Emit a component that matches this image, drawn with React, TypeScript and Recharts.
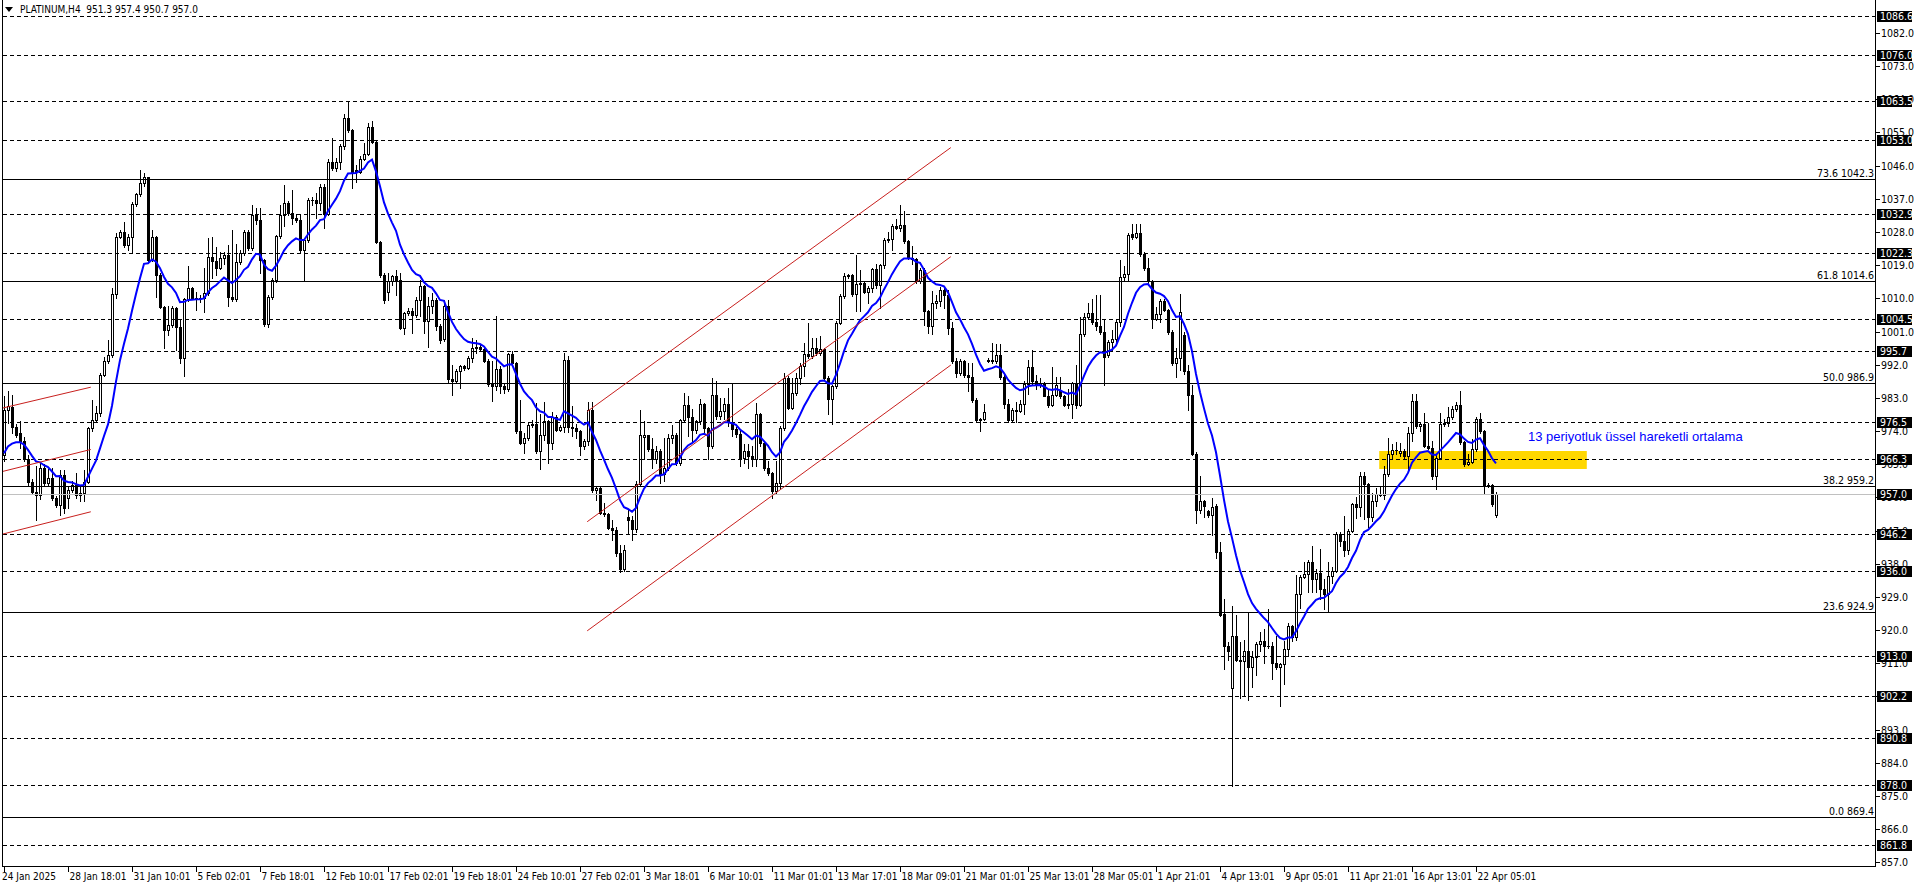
import React from 'react';
import { ComposedChart, Bar, Line, XAxis, YAxis, ReferenceLine, ReferenceArea } from 'recharts';

// ---------------- data ----------------
const symbolName = 'PLATINUM,H4';

// H4 candles [open, high, low, close]
const candlesA: number[][] = [
  [967.5, 983.4, 965.8, 979.6], [979.8, 984.9, 976.1, 980.7], [980.6, 983.8, 973.4, 975.2], [975.2, 976.0, 972.5, 973.0],
  [973.4, 976.6, 969.4, 971.2], [971.2, 972.5, 965.8, 966.5], [966.5, 967.6, 959.4, 960.3], [960.3, 961.0, 957.2, 957.6],
  [957.6, 964.4, 950.0, 956.7], [956.7, 965.2, 955.5, 964.0], [964.0, 965.0, 959.0, 960.0], [960.0, 963.6, 959.2, 961.2],
  [961.2, 964.0, 955.4, 955.8], [955.8, 956.5, 953.5, 954.0], [954.0, 963.5, 951.3, 962.0], [962.0, 963.5, 951.8, 953.1],
  [955.8, 959.0, 953.0, 958.1], [958.1, 960.5, 957.6, 959.4], [959.4, 962.6, 955.8, 956.7], [956.7, 959.0, 954.9, 957.2],
  [957.2, 963.5, 954.9, 960.3], [960.3, 975.2, 959.8, 974.8], [974.8, 982.5, 973.9, 977.1], [977.1, 980.7, 976.6, 978.9],
  [978.9, 989.7, 978.0, 989.2], [989.2, 994.2, 988.8, 992.9], [992.9, 998.7, 992.4, 994.7], [994.7, 1012.7, 994.2, 1011.2],
  [1011.2, 1027.6, 1010.0, 1026.7], [1026.7, 1028.5, 1026.3, 1028.1], [1028.1, 1030.8, 1024.0, 1024.5], [1024.5, 1027.5, 1023.2, 1026.7],
  [1026.7, 1036.2, 1022.7, 1035.5], [1035.5, 1038.6, 1035.0, 1038.2], [1038.2, 1044.8, 1037.8, 1041.4], [1041.4, 1044.0, 1040.5, 1042.8],
  [1042.8, 1043.0, 1019.5, 1020.4], [1020.4, 1028.5, 1020.0, 1026.7], [1026.7, 1027.0, 1010.5, 1016.3], [1016.3, 1016.8, 1007.3, 1007.6],
  [1007.6, 1007.8, 996.5, 1001.5], [1001.5, 1007.8, 1000.1, 1002.8], [1002.8, 1008.0, 1002.3, 1007.3], [1007.3, 1007.6, 996.0, 1002.3],
  [1002.3, 1004.2, 992.4, 993.8], [993.8, 1010.0, 988.8, 1009.8], [1009.8, 1018.8, 1009.2, 1012.7], [1012.7, 1013.0, 1009.7, 1010.0],
  [1010.0, 1011.8, 1006.9, 1010.2], [1010.2, 1011.0, 1009.0, 1010.0], [1010.0, 1018.2, 1006.4, 1011.4], [1011.4, 1026.3, 1011.0, 1021.3],
  [1021.3, 1026.7, 1015.4, 1020.0], [1020.0, 1024.0, 1016.3, 1018.1], [1018.1, 1022.6, 1017.9, 1020.9], [1020.9, 1022.6, 1019.3, 1021.7],
  [1021.7, 1024.5, 1008.0, 1010.5], [1010.5, 1028.5, 1009.3, 1009.8], [1009.8, 1024.7, 1009.3, 1019.9], [1019.9, 1023.0, 1019.3, 1022.2],
  [1022.2, 1028.5, 1021.8, 1028.1], [1028.1, 1028.5, 1023.1, 1023.6], [1023.6, 1035.3, 1023.1, 1032.6], [1032.6, 1034.4, 1030.3, 1031.2],
  [1031.2, 1034.4, 1016.8, 1020.4], [1020.4, 1020.8, 1002.5, 1003.0], [1003.0, 1010.8, 1002.3, 1010.5], [1010.5, 1015.4, 1009.8, 1015.0],
  [1015.0, 1027.2, 1014.5, 1027.0], [1027.0, 1035.3, 1026.5, 1032.6], [1032.6, 1040.7, 1029.5, 1035.8], [1035.8, 1036.5, 1032.5, 1033.1],
  [1033.1, 1039.4, 1030.3, 1031.7], [1031.7, 1033.0, 1030.8, 1031.2], [1031.2, 1033.0, 1022.6, 1023.0], [1023.0, 1026.2, 1015.0, 1025.8],
  [1025.8, 1037.2, 1025.3, 1036.8], [1036.8, 1037.6, 1035.3, 1036.6], [1036.6, 1038.5, 1031.7, 1035.8], [1035.8, 1041.0, 1034.0, 1040.3],
];

const candlesB: number[][] = [
  [1040.3, 1041.0, 1029.0, 1033.0], [1033.0, 1047.8, 1032.5, 1047.1], [1047.1, 1053.5, 1044.8, 1045.4], [1045.4, 1048.2, 1044.5, 1047.1],
  [1047.1, 1051.8, 1045.0, 1051.2], [1051.2, 1060.0, 1050.5, 1058.9], [1058.9, 1063.2, 1055.2, 1055.7], [1055.7, 1056.0, 1039.9, 1044.4],
  [1044.9, 1046.2, 1041.7, 1044.4], [1044.4, 1048.5, 1044.0, 1047.8], [1047.8, 1052.1, 1047.5, 1049.2], [1049.2, 1057.5, 1048.9, 1056.6],
  [1056.6, 1058.0, 1052.1, 1052.5], [1052.5, 1053.0, 1025.0, 1025.2], [1025.2, 1025.6, 1015.9, 1016.4], [1016.4, 1016.8, 1008.8, 1009.6],
  [1011.6, 1016.8, 1009.6, 1014.6], [1014.6, 1016.3, 1013.5, 1016.0], [1016.0, 1017.8, 1011.0, 1015.0], [1015.0, 1016.9, 1001.6, 1002.0],
  [1002.0, 1006.3, 1000.2, 1006.0], [1006.0, 1007.5, 1005.4, 1006.7], [1006.7, 1007.5, 1000.6, 1005.6], [1005.6, 1010.5, 1005.0, 1009.6],
  [1009.6, 1015.0, 1005.1, 1013.3], [1013.3, 1013.5, 1000.6, 1003.8], [1003.8, 1010.5, 996.9, 1007.8], [1007.8, 1011.4, 1006.0, 1009.6],
  [1009.6, 1010.0, 1001.5, 1002.4], [1002.4, 1003.0, 997.9, 998.8], [999.0, 1009.6, 998.5, 1007.8], [1007.8, 1009.6, 987.1, 988.0],
  [988.0, 991.8, 983.8, 987.6], [987.6, 990.7, 987.1, 990.2], [990.2, 992.0, 985.7, 991.6], [991.6, 992.0, 990.5, 991.2],
  [991.2, 994.3, 990.7, 993.8], [993.8, 999.3, 992.7, 996.5], [996.5, 998.8, 995.2, 996.9], [996.9, 997.5, 995.8, 996.3],
  [996.3, 996.9, 992.6, 993.1], [993.1, 993.5, 986.2, 986.7], [987.1, 993.1, 982.2, 986.2], [986.2, 1005.1, 985.2, 990.7],
  [990.7, 991.6, 984.4, 986.2], [986.2, 986.7, 984.4, 985.3], [985.3, 995.2, 984.9, 994.9], [994.9, 995.7, 991.6, 992.5],
  [992.5, 992.6, 973.5, 974.0], [974.0, 982.5, 970.4, 970.8], [970.8, 973.5, 968.1, 972.2], [972.2, 976.2, 971.7, 975.7],
  [975.7, 977.0, 975.0, 975.9], [975.9, 981.6, 968.1, 968.6], [968.6, 978.5, 963.6, 973.0], [973.0, 982.0, 971.6, 976.8],
  [976.8, 977.1, 965.4, 970.8], [970.8, 979.3, 969.0, 977.9], [977.9, 978.3, 974.0, 974.3], [974.3, 975.7, 973.9, 975.2],
  [975.2, 995.2, 973.8, 993.4], [993.4, 994.3, 973.8, 975.2], [975.2, 980.7, 972.6, 974.8], [974.8, 975.8, 972.0, 974.0],
  [974.0, 974.4, 967.6, 969.9], [969.9, 971.8, 969.2, 971.3], [971.3, 982.0, 970.3, 979.8], [979.8, 982.0, 957.6, 958.1],
  [958.1, 959.0, 955.4, 958.6], [958.6, 959.0, 951.4, 951.8], [951.8, 954.5, 950.9, 951.4], [951.4, 951.8, 947.4, 947.8],
  [947.8, 949.9, 944.4, 947.2], [947.2, 948.0, 940.0, 941.0], [941.0, 943.0, 935.8, 936.5], [936.5, 943.0, 935.9, 941.8],
  [950.8, 952.5, 946.0, 950.0], [950.0, 951.0, 944.5, 947.5], [947.5, 960.5, 946.5, 959.5], [959.5, 979.6, 959.0, 972.8],
];

const candlesC: number[][] = [
  [972.4, 976.7, 966.3, 972.8], [972.8, 973.0, 968.6, 969.0], [969.0, 972.2, 964.0, 966.3], [966.3, 969.9, 965.4, 968.6],
  [968.6, 969.0, 960.0, 962.3], [962.3, 972.2, 960.4, 964.0], [964.0, 973.1, 963.5, 972.2], [972.2, 975.6, 970.8, 972.9],
  [972.9, 973.4, 964.9, 965.4], [965.4, 977.3, 964.9, 976.9], [976.9, 984.4, 976.4, 981.2], [981.2, 983.5, 972.7, 977.8],
  [977.8, 979.9, 971.3, 974.4], [974.4, 977.1, 973.5, 976.7], [976.7, 982.6, 975.8, 981.4], [981.4, 981.6, 973.5, 974.9],
  [974.9, 975.2, 966.3, 969.9], [969.9, 988.5, 969.4, 983.9], [983.9, 987.6, 977.2, 978.1], [978.1, 983.0, 977.2, 979.5],
  [979.5, 983.0, 977.2, 981.3], [981.3, 985.7, 975.5, 976.4], [976.4, 986.8, 972.6, 974.6], [974.6, 975.0, 972.3, 973.2],
  [973.2, 974.6, 964.5, 966.8], [966.8, 970.4, 965.4, 968.6], [968.6, 970.4, 964.0, 967.3], [967.3, 969.9, 964.5, 966.3],
  [966.3, 981.7, 964.5, 978.5], [978.5, 979.0, 969.9, 970.8], [970.8, 970.9, 963.5, 964.0], [964.0, 965.8, 962.1, 962.6],
  [962.6, 963.0, 955.9, 957.7], [957.7, 965.8, 957.2, 960.0], [960.0, 975.3, 958.4, 974.9], [974.9, 989.8, 974.4, 988.5],
  [988.5, 988.9, 979.9, 980.3], [980.3, 988.5, 979.9, 984.4], [984.4, 989.8, 983.9, 988.4], [988.4, 992.5, 986.7, 991.6],
  [991.6, 998.0, 988.9, 994.8], [994.8, 1003.3, 993.8, 994.3], [994.3, 999.3, 993.8, 996.6], [996.6, 999.3, 994.7, 995.2],
  [995.2, 999.7, 994.7, 996.2], [996.2, 996.6, 988.0, 988.5], [988.5, 988.9, 978.5, 982.6], [982.6, 986.4, 975.8, 986.2],
  [986.2, 1003.8, 985.7, 1003.4], [1003.4, 1011.1, 1003.0, 1010.6], [1010.6, 1016.9, 1010.1, 1016.0], [1016.0, 1016.6, 1015.6, 1016.2],
  [1016.2, 1016.5, 1010.6, 1011.1], [1011.1, 1021.7, 1006.5, 1013.9], [1013.9, 1017.8, 1006.5, 1014.2], [1014.2, 1014.4, 1011.4, 1011.7],
  [1011.7, 1013.4, 1008.8, 1012.9], [1012.9, 1018.2, 1011.7, 1018.0], [1018.0, 1019.2, 1012.8, 1013.5], [1013.5, 1019.2, 1007.4, 1019.0],
  [1019.0, 1026.4, 1018.3, 1025.9], [1025.9, 1028.1, 1025.4, 1026.2], [1026.2, 1030.1, 1023.2, 1029.6], [1029.6, 1031.4, 1028.7, 1029.2],
  [1029.2, 1035.4, 1028.2, 1030.0], [1030.0, 1033.7, 1025.0, 1025.5], [1025.5, 1025.9, 1020.6, 1021.0], [1021.0, 1024.1, 1019.2, 1020.6],
  [1020.6, 1021.0, 1014.2, 1014.7], [1014.7, 1018.2, 1014.2, 1017.8], [1017.8, 1018.2, 1002.9, 1006.5], [1006.5, 1006.8, 1000.7, 1002.5],
  [1002.5, 1011.9, 1000.2, 1008.8], [1008.8, 1011.0, 1007.4, 1009.2], [1009.2, 1013.0, 1008.0, 1012.4],
];

const candlesD: number[][] = [
  [1012.4, 1013.0, 1007.3, 1011.0], [1011.0, 1012.2, 1000.3, 1001.9], [1001.9, 1003.5, 992.4, 992.9], [992.9, 993.9, 988.7, 989.7],
  [989.7, 993.5, 989.2, 992.9], [992.9, 993.4, 988.7, 989.2], [989.2, 992.4, 985.0, 988.7], [988.7, 992.4, 981.8, 982.3],
  [982.3, 983.0, 976.5, 977.0], [977.0, 977.6, 973.9, 977.2], [977.2, 981.3, 977.0, 979.2], [993.0, 993.8, 992.6, 993.2],
  [993.4, 998.0, 992.4, 992.9], [992.9, 997.7, 992.4, 994.5], [994.5, 997.7, 988.1, 988.7], [988.7, 989.7, 980.2, 981.3],
  [981.3, 982.8, 976.5, 977.0], [977.0, 980.2, 976.5, 979.7], [979.7, 981.8, 976.5, 979.4], [979.4, 982.3, 979.2, 981.3],
  [981.3, 987.6, 978.6, 986.8], [986.8, 993.4, 984.0, 991.3], [991.3, 996.1, 986.6, 987.6], [987.6, 989.2, 985.5, 986.6],
  [986.6, 988.5, 986.0, 987.1], [987.1, 987.3, 983.4, 983.6], [983.6, 985.5, 980.4, 981.1], [981.1, 991.3, 980.8, 983.9],
  [983.9, 988.7, 983.4, 986.6], [985.0, 988.7, 982.9, 983.4], [983.4, 983.9, 980.8, 981.1], [981.1, 985.5, 980.2, 981.3],
  [981.3, 987.2, 977.6, 986.9], [986.9, 991.8, 980.2, 981.1], [981.1, 1005.0, 980.8, 1000.3], [1000.3, 1006.1, 999.8, 1005.0],
  [1005.0, 1008.8, 1004.5, 1006.1], [1006.1, 1009.8, 1003.0, 1003.5], [1003.5, 1010.9, 1001.4, 1002.4], [1002.4, 1010.9, 1000.3, 1000.8],
  [1000.8, 1004.0, 986.6, 994.0], [994.5, 998.7, 994.0, 998.2], [998.2, 1001.4, 996.1, 999.1], [999.1, 1004.0, 998.2, 1003.5],
  [1003.5, 1020.4, 1002.4, 1015.9], [1015.9, 1018.8, 1015.0, 1016.6], [1016.6, 1027.8, 1014.6, 1027.3], [1027.5, 1030.1, 1026.2, 1026.7],
  [1026.7, 1030.1, 1026.5, 1027.8], [1027.8, 1030.1, 1021.5, 1022.0], [1022.0, 1022.5, 1017.8, 1018.3], [1018.3, 1020.9, 1014.0, 1014.6],
  [1014.6, 1015.0, 1001.9, 1004.5], [1004.5, 1007.7, 1004.0, 1005.8], [1005.8, 1009.8, 1003.5, 1009.3], [1009.3, 1009.8, 1006.5, 1006.9],
  [1006.9, 1007.2, 1000.3, 1000.8], [1000.8, 1001.3, 991.8, 992.4], [992.4, 996.6, 988.7, 993.7], [993.7, 1011.1, 990.6, 1006.4],
  [1000.0, 1001.0, 989.5, 990.3], [990.3, 991.8, 979.7, 983.9], [983.9, 986.6, 967.5, 967.7], [967.7, 968.3, 949.0, 952.5],
  [952.5, 961.7, 951.7, 954.9], [954.9, 955.4, 950.6, 953.8], [952.2, 952.7, 950.6, 951.3], [951.3, 955.9, 945.9, 953.3],
  [953.6, 954.3, 939.5, 941.1], [941.3, 943.8, 923.7, 924.0], [924.4, 928.4, 909.4, 915.7], [915.7, 916.8, 912.0, 914.2],
];

const candlesE: number[][] = [
  [904.3, 926.5, 877.8, 918.4], [918.4, 924.2, 911.5, 912.0], [912.0, 916.8, 901.5, 911.5], [911.5, 917.3, 902.0, 914.2],
  [914.2, 924.7, 901.0, 910.0], [910.0, 914.2, 904.6, 912.8], [912.8, 916.8, 907.8, 916.3], [916.3, 919.4, 914.2, 917.0],
  [917.0, 920.2, 911.0, 915.8], [915.8, 925.8, 915.2, 915.6], [915.6, 916.8, 906.8, 911.0], [911.0, 918.4, 909.4, 909.9],
  [909.9, 911.0, 899.4, 910.8], [910.8, 917.0, 905.5, 915.0], [915.0, 921.8, 913.0, 921.2], [921.2, 921.5, 917.0, 918.0],
  [918.0, 934.9, 917.4, 929.8], [929.8, 934.9, 926.0, 934.3], [934.3, 938.4, 934.0, 935.2], [935.2, 938.9, 930.3, 938.4],
  [938.4, 942.9, 930.3, 933.9], [933.9, 936.5, 930.3, 935.6], [935.6, 942.0, 928.5, 931.2], [931.2, 933.9, 925.7, 929.8],
  [929.8, 938.4, 924.8, 934.8], [934.8, 937.0, 932.8, 936.1], [936.1, 946.5, 935.7, 946.1], [946.1, 946.5, 942.9, 944.3],
  [944.3, 951.0, 940.2, 941.7], [941.7, 947.4, 940.7, 947.0], [947.0, 954.6, 946.6, 954.2], [954.2, 956.0, 950.4, 953.3],
  [953.3, 962.8, 951.0, 961.9], [961.9, 962.8, 950.2, 959.6], [959.6, 960.0, 947.9, 950.6], [950.6, 957.3, 949.5, 955.1],
  [955.1, 958.6, 953.7, 956.9], [956.9, 959.2, 956.4, 956.6], [956.6, 964.6, 955.6, 962.3], [962.3, 972.0, 961.9, 967.7],
  [967.7, 970.5, 966.4, 968.9], [968.9, 971.1, 967.8, 968.8], [968.0, 970.8, 967.3, 968.6], [968.6, 969.1, 966.4, 967.3],
  [967.3, 975.0, 962.8, 973.6], [973.6, 984.0, 971.4, 982.2], [982.2, 984.0, 974.9, 975.4], [975.4, 976.3, 974.0, 975.8],
  [975.8, 979.0, 969.6, 970.0], [970.0, 976.3, 969.1, 969.5], [969.5, 971.4, 960.9, 961.9], [961.9, 967.7, 958.3, 966.8],
  [966.8, 979.0, 966.4, 975.9], [975.9, 977.2, 975.3, 976.2], [976.2, 980.4, 975.3, 977.8], [977.8, 980.9, 977.4, 980.0],
  [980.0, 982.0, 979.5, 981.0], [981.0, 984.9, 970.5, 970.9], [970.9, 971.4, 964.6, 965.0], [965.0, 967.7, 964.8, 965.7],
  [965.7, 971.8, 965.4, 969.1], [969.1, 977.7, 968.6, 977.2], [977.2, 979.0, 973.6, 974.1], [974.1, 974.4, 956.9, 959.3],
  [959.3, 960.0, 958.7, 959.4], [959.4, 959.7, 953.7, 954.2], [951.3, 957.4, 950.7, 957.0],
];

const timeLabels = [
  '24 Jan 2025', '28 Jan 18:01', '31 Jan 10:01', '5 Feb 02:01', '7 Feb 18:01', '12 Feb 10:01', '17 Feb 02:01',
  '19 Feb 18:01', '24 Feb 10:01', '27 Feb 02:01', '3 Mar 18:01', '6 Mar 10:01', '11 Mar 01:01', '13 Mar 17:01',
  '18 Mar 09:01', '21 Mar 01:01', '25 Mar 13:01', '28 Mar 05:01', '1 Apr 21:01', '4 Apr 13:01', '9 Apr 05:01',
  '11 Apr 21:01', '16 Apr 13:01', '22 Apr 05:01',
];
const barsPerLabel = 16;

const priceTicks = [1082, 1073, 1064, 1055, 1046, 1037, 1028, 1019, 1010, 1001, 992, 983, 974, 965, 956, 947, 938, 929, 920, 911, 902, 893, 884, 875, 866, 857];
const dashedLevels = [1086.6, 1076.0, 1063.5, 1053.0, 1032.9, 1022.3, 1004.5, 995.7, 976.5, 966.3, 946.2, 936.0, 913.0, 902.2, 890.8, 878.0, 861.8];
const fibRatios = ['73.6', '61.8', '50.0', '38.2', '23.6', '0.0'];
const fibPrices = [1042.3, 1014.6, 986.9, 959.2, 924.9, 869.4];
const bidPrice = 957.0;

const emaPeriod = 13;
const emaSeed = 968.0;
const emaNote = '13 periyotluk üssel hareketli ortalama';

// drawn objects, in (bar index, price) coordinates
const zoneBars = [343.8, 395.7];
const zonePrices = [963.7, 968.6];
const smallChannelBars = [-0.5, 21.7];
const smallChannelUpper = [980.2, 985.9];
const smallChannelMiddle = [963.0, 969.0];
const smallChannelLower = [946.0, 952.1];
const bigChannelBars = [145.8, 236.7];
const bigChannelUpper = [979.3, 1050.9];
const bigChannelMiddle = [949.4, 1021.3];
const bigChannelLower = [919.8, 991.9];

const priceDomain = [855.73, 1090.94];
const barDomain = [-0.5, 468];

// ---------------- build ----------------
const allCandles = [...candlesA, ...candlesB, ...candlesC, ...candlesD, ...candlesE];
const alpha = 2 / (emaPeriod + 1);
let emaRun = emaSeed;
const rows = allCandles.map((cd, i) => {
  const [o, h, l, c] = cd;
  if (i > 0) emaRun = emaRun + alpha * (c - emaRun);
  return { k: i, range: [l, h], o, h, l, c, ema: emaRun };
});
const lastCandle = allCandles[allCandles.length - 1];
const titleText = `${symbolName}  ${lastCandle.map((v) => v.toFixed(1)).join(' ')}`;
const xTicks = timeLabels.map((_, i) => i * barsPerLabel);

const FONT = "'Liberation Sans Narrow', 'DejaVu Sans Condensed', 'Liberation Sans', sans-serif";
const PLOT_RIGHT = 1876;
const PLOT_BOTTOM = 867;

const CandleShape = (props: any) => {
  const { x, y, width, height, payload } = props;
  if (x == null || !payload) return null;
  const { o, h, l, c } = payload;
  const top = Math.min(y, y + height);
  const bot = Math.max(y, y + height);
  const span = h - l;
  const yOf = (p: number) => (span > 0 ? top + ((h - p) / span) * (bot - top) : top);
  const cx = Math.round(x + width / 2);
  const yH = Math.round(yOf(h));
  const yL = Math.round(yOf(l));
  const yO = yOf(o);
  const yC = yOf(c);
  const bTop = Math.round(Math.min(yO, yC));
  const bBot = Math.round(Math.max(yO, yC));
  const bull = c >= o;
  let body;
  if (bBot - bTop < 1) {
    body = <line x1={cx - 1} x2={cx + 2} y1={bTop + 0.5} y2={bTop + 0.5} stroke="#000" strokeWidth={1} shapeRendering="crispEdges" />;
  } else if (bull) {
    body = <rect x={cx - 0.5} y={bTop + 0.5} width={2} height={bBot - bTop} fill="#fff" stroke="#000" strokeWidth={1} shapeRendering="crispEdges" />;
  } else {
    body = <rect x={cx - 1} y={bTop} width={3} height={bBot - bTop + 1} fill="#000" shapeRendering="crispEdges" />;
  }
  return (
    <g>
      <line x1={cx + 0.5} x2={cx + 0.5} y1={yH} y2={yL + 1} stroke="#000" strokeWidth={1} shapeRendering="crispEdges" />
      {body}
    </g>
  );
};

const hLineShape = (color: string, dash?: string) => (p: any) => {
  const yy = Math.round(p.y1) + 0.5;
  return <line x1={p.x1} x2={p.x2} y1={yy} y2={yy} stroke={color} strokeWidth={1} strokeDasharray={dash} shapeRendering="crispEdges" />;
};

const tickMarkShape = (p: any) => {
  const yy = Math.round(p.y1) + 0.5;
  return <line x1={PLOT_RIGHT} x2={PLOT_RIGHT + 4} y1={yy} y2={yy} stroke="#000" strokeWidth={1} shapeRendering="crispEdges" />;
};

const tickLabel = (text: string) => (props: any) => {
  const vb = props.viewBox || {};
  const yy = Math.round(vb.y);
  return (
    <text x={PLOT_RIGHT + 5} y={yy + 4} fill="#000" fontSize={10.5} fontFamily={FONT}>{text}</text>
  );
};

const priceBox = (text: string) => (props: any) => {
  const vb = props.viewBox || {};
  const yy = Math.round(vb.y);
  const xx = PLOT_RIGHT + 1;
  return (
    <g>
      <rect x={xx} y={yy - 5} width={35} height={11} fill="#000" />
      <text x={xx + 3} y={yy + 4} fill="#fff" fontSize={10.5} fontFamily={FONT}>{text}</text>
    </g>
  );
};

const fibLabel = (text: string) => (props: any) => {
  const vb = props.viewBox || {};
  const yy = Math.round(vb.y);
  return (
    <text x={PLOT_RIGHT - 2} y={yy - 2} textAnchor="end" fill="#000" fontSize={10.5} fontFamily={FONT}>{text}</text>
  );
};

const XTick = (props: any) => {
  const { x, payload } = props;
  const idx = Math.round(payload.value / barsPerLabel);
  const tx = Math.round(x) + 0.5;
  return (
    <g>
      <line x1={tx} x2={tx} y1={PLOT_BOTTOM} y2={PLOT_BOTTOM + 5} stroke="#000" strokeWidth={1} shapeRendering="crispEdges" />
      <text x={idx === 0 ? 2 : tx + 1} y={PLOT_BOTTOM + 13} fill="#000" fontSize={10} fontFamily={FONT}>{timeLabels[idx]}</text>
    </g>
  );
};

const segLine = (bars: number[], prices: number[], key: string) => (
  <ReferenceLine
    key={key}
    segment={[{ x: bars[0], y: prices[0] }, { x: bars[1], y: prices[1] }]}
    stroke="#C8201E"
    strokeWidth={1}
    ifOverflow="visible"
  />
);

export default function App() {
  return (
    <div style={{ position: 'absolute', left: 0, top: 0, width: 1916, height: 888, background: '#fff' }}>
      <ComposedChart width={1916} height={888} data={rows} margin={{ top: 0, right: 0, bottom: 0, left: 2 }}>
        <XAxis
          dataKey="k"
          type="number"
          domain={barDomain}
          ticks={xTicks}
          interval={0}
          allowDataOverflow
          height={21}
          axisLine={false}
          tickLine={false}
          tick={XTick}
        />
        <YAxis
          yAxisId={0}
          orientation="right"
          type="number"
          domain={priceDomain}
          ticks={priceTicks}
          interval={0}
          allowDataOverflow
          width={40}
          axisLine={false}
          tickLine={false}
          tick={false}
        />
        <ReferenceArea
          x1={zoneBars[0]}
          x2={zoneBars[1]}
          y1={zonePrices[0]}
          y2={zonePrices[1]}
          fill="#FFD700"
          fillOpacity={1}
          stroke="none"
          ifOverflow="visible"
        />
        {priceTicks.map((t) => (
          <ReferenceLine key={'t' + t} y={t} shape={tickMarkShape} label={tickLabel(t.toFixed(1))} />
        ))}
        {dashedLevels.map((p) => (
          <ReferenceLine key={'d' + p} y={p} shape={hLineShape('#000', '4 3')} label={priceBox(p.toFixed(1))} />
        ))}
        {fibPrices.map((p, i) => (
          <ReferenceLine key={'f' + p} y={p} shape={hLineShape('#000')} label={fibLabel(`${fibRatios[i]} ${p.toFixed(1)}`)} />
        ))}
        <ReferenceLine y={bidPrice} shape={hLineShape('#C0C0C0')} label={priceBox(bidPrice.toFixed(1))} />
        <Bar dataKey="range" barSize={3} shape={CandleShape} isAnimationActive={false} />
        <Line dataKey="ema" type="linear" stroke="#0000FF" strokeWidth={2} dot={false} activeDot={false} isAnimationActive={false} />
        {segLine(smallChannelBars, smallChannelUpper, 'su')}
        {segLine(smallChannelBars, smallChannelMiddle, 'sm')}
        {segLine(smallChannelBars, smallChannelLower, 'sl')}
        {segLine(bigChannelBars, bigChannelUpper, 'bu')}
        {segLine(bigChannelBars, bigChannelMiddle, 'bm')}
        {segLine(bigChannelBars, bigChannelLower, 'bl')}
        <ReferenceLine y={priceDomain[0]} shape={(p: any) => <line x1={p.x1} x2={p.x2 + 1} y1={PLOT_BOTTOM - 0.5} y2={PLOT_BOTTOM - 0.5} stroke="#000" strokeWidth={1} shapeRendering="crispEdges" />} />
        <ReferenceLine x={barDomain[1]} shape={(p: any) => <line x1={PLOT_RIGHT - 0.5} x2={PLOT_RIGHT - 0.5} y1={0} y2={PLOT_BOTTOM} stroke="#000" strokeWidth={1} shapeRendering="crispEdges" />} />
        <ReferenceLine x={barDomain[0]} shape={(p: any) => <line x1={2.5} x2={2.5} y1={0} y2={PLOT_BOTTOM} stroke="#000" strokeWidth={1} shapeRendering="crispEdges" />} />
      </ComposedChart>
      <div style={{ position: 'absolute', left: 5, top: 3, fontFamily: FONT, fontSize: 10, color: '#000', whiteSpace: 'pre', lineHeight: '13px', display: 'flex', alignItems: 'center' }}>
        <svg width={9} height={6} style={{ marginRight: 6 }}>
          <polygon points="0,0 8,0 4,5" fill="#000" />
        </svg>
        {titleText}
      </div>
      <div style={{ position: 'absolute', left: 1528, top: 429, fontFamily: "'Liberation Sans', Arial, sans-serif", fontSize: 13, color: '#0000FF', whiteSpace: 'pre', lineHeight: '16px' }}>
        {emaNote}
      </div>
    </div>
  );
}
